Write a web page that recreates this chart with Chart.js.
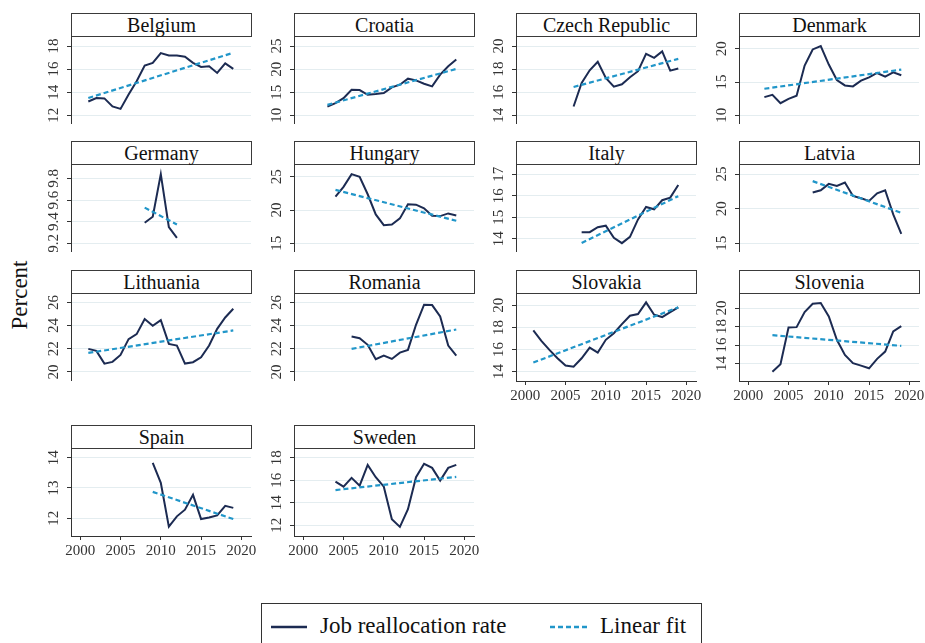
<!DOCTYPE html>
<html>
<head>
<meta charset="utf-8">
<script src="https://cdn.jsdelivr.net/npm/chart.js@4.4.0/dist/chart.umd.min.js"></script>
<style>
  body { margin: 0; background: #fff; }
  #wrap { position: relative; width: 925px; height: 643px; overflow: hidden; font-family: "Liberation Serif", serif; color: #111; }
  .title { position: absolute; box-sizing: border-box; height: 24px; width: 181px; border: 1px solid #3a3a3a; background: #fff; text-align: center; font-size: 20px; line-height: 22px; }
  canvas { position: absolute; }
  #ylab { position: absolute; left: 20px; top: 295px; font-size: 23px; transform: translate(-50%, -50%) rotate(-90deg); white-space: nowrap; }
  #legend { position: absolute; left: 261px; top: 603px; width: 441px; height: 60px; box-sizing: border-box; border: 1px solid #333; }
  .ltxt { position: absolute; top: 613px; font-size: 23px; line-height: 26px; white-space: nowrap; }
</style>
</head>
<body>
<div id="wrap">
  <div id="ylab">Percent</div>
  <div id="legend"></div>
  <svg style="position:absolute;left:0;top:0" width="925" height="643">
    <line x1="271" y1="627" x2="307" y2="627" stroke="#1c2b52" stroke-width="2.5"/>
    <line x1="550" y1="627" x2="588" y2="627" stroke="#2196c9" stroke-width="2.5" stroke-dasharray="5,3"/>
  </svg>
  <div class="ltxt" style="left:320px">Job reallocation rate</div>
  <div class="ltxt" style="left:600px">Linear fit</div>
</div>
<script>
const countries = ["Belgium", "Croatia", "Czech Republic", "Denmark", "Germany", "Hungary", "Italy",
  "Latvia", "Lithuania", "Romania", "Slovakia", "Slovenia", "Spain", "Sweden"];
const firstYear = [2001, 2003, 2006, 2002, 2008, 2004, 2007, 2008, 2001, 2006, 2001, 2003, 2009, 2004];

const belgium = [13.19, 13.49, 13.46, 12.76, 12.55, 13.8, 14.94, 16.31, 16.54, 17.39, 17.18, 17.18, 17.07, 16.54, 16.19, 16.25, 15.67, 16.49, 16.02];
const croatia = [11.89, 12.62, 13.71, 15.54, 15.46, 14.44, 14.59, 14.81, 16.05, 16.63, 17.94, 17.57, 16.85, 16.26, 18.81, 20.63, 22.09];
const czech = [14.76, 16.8, 17.9, 18.63, 17.23, 16.48, 16.68, 17.29, 17.82, 19.33, 18.98, 19.53, 17.87, 18.05];
const denmark = [12.73, 13.08, 11.82, 12.47, 12.93, 17.47, 19.9, 20.4, 17.63, 15.3, 14.49, 14.34, 15.2, 15.71, 16.36, 15.81, 16.46, 16.01];
const germany = [9.39, 9.446, 9.84, 9.35, 9.25];
const hungary = [22.02, 23.48, 25.4, 25.0, 22.37, 19.34, 17.73, 17.83, 18.74, 20.86, 20.81, 20.25, 19.14, 19.09, 19.49, 19.19];
const italy = [14.31, 14.31, 14.54, 14.61, 14.05, 13.8, 14.09, 14.9, 15.48, 15.37, 15.79, 15.91, 16.5];
const latvia = [22.33, 22.67, 23.59, 23.3, 23.79, 21.84, 21.5, 21.12, 22.23, 22.67, 19.17, 16.36];
const lithuania = [21.99, 21.82, 20.72, 20.87, 21.47, 22.83, 23.26, 24.56, 23.98, 24.47, 22.42, 22.28, 20.72, 20.84, 21.27, 22.28, 23.72, 24.7, 25.45];
const romania = [23.06, 22.91, 22.34, 21.1, 21.41, 21.12, 21.67, 21.9, 24.07, 25.8, 25.77, 24.79, 22.28, 21.41];
const slovakia = [17.73, 16.79, 15.97, 15.21, 14.55, 14.45, 15.21, 16.18, 15.73, 16.88, 17.48, 18.3, 19.06, 19.21, 20.27, 19.15, 18.94, 19.39, 19.82];
const slovenia = [13.13, 13.93, 17.9, 17.94, 19.57, 20.47, 20.54, 19.1, 16.57, 14.94, 14.04, 13.78, 13.49, 14.51, 15.3, 17.47, 18.05];
const spain = [13.83, 13.17, 11.72, 12.06, 12.28, 12.77, 11.97, 12.02, 12.09, 12.41, 12.34];
const sweden = [15.88, 15.43, 16.21, 15.52, 17.37, 16.27, 15.43, 12.54, 11.85, 13.43, 16.27, 17.46, 17.1, 15.97, 17.1, 17.37];
const rates = [belgium, croatia, czech, denmark, germany, hungary, italy, latvia, lithuania, romania, slovakia, slovenia, spain, sweden];

// linear fit, value at first and last year
const fitStart = [13.49, 12.26, 16.45, 13.99, 9.53, 23.03, 13.81, 23.98, 21.64, 21.99, 14.82, 17.07, 12.87, 15.13];
const fitEnd = [17.42, 20.05, 18.89, 16.87, 9.374, 18.38, 15.98, 19.4, 23.58, 23.66, 19.82, 15.92, 11.97, 16.3];

const yMin = [11.24, 8.11, 13.24, 8.69, 9.119, 13.69, 13.39, 13.74, 19.22, 19.22, 13.15, 12.12, 11.41, 11.04];
const yMax = [18.87, 27.19, 20.87, 21.92, 9.934, 26.92, 17.47, 26.46, 26.81, 26.81, 21.12, 21.63, 14.32, 18.87];
const yTicks = [[12, 14, 16, 18], [10, 15, 20, 25], [14, 16, 18, 20], [10, 15, 20], [9.2, 9.4, 9.6, 9.8],
  [15, 20, 25], [14, 15, 16, 17], [15, 20, 25], [20, 22, 24, 26], [20, 22, 24, 26],
  [14, 16, 18, 20], [14, 16, 18, 20], [12, 13, 14], [12, 14, 16, 18]];
const xTicks = [2000, 2005, 2010, 2015, 2020];
const withXAxis = [10, 11, 12, 13];

const colLeft = [71, 294, 516, 739];
const rowTop = [13, 141, 270, 425];

Chart.defaults.font.family = "Liberation Serif";

const yLabels = {
  id: "yLabels",
  afterDraw(chart) {
    const s = chart.scales.y;
    const ctx = chart.ctx;
    ctx.save();
    ctx.font = "15px 'Liberation Serif'";
    ctx.fillStyle = "#333";
    ctx.textAlign = "center";
    ctx.textBaseline = "alphabetic";
    s.ticks.forEach(t => {
      ctx.save();
      ctx.translate(s.right - 13, s.getPixelForValue(t.value));
      ctx.rotate(-Math.PI / 2);
      ctx.fillText(String(t.value), 0, 0);
      ctx.restore();
    });
    ctx.restore();
  }
};

const wrap = document.getElementById("wrap");

countries.forEach((name, i) => {
  const row = Math.floor(i / 4);
  const col = i % 4;
  const showX = withXAxis.includes(i);

  const t = document.createElement("div");
  t.className = "title";
  t.style.left = colLeft[col] + "px";
  t.style.top = rowTop[row] + "px";
  t.textContent = name;
  wrap.appendChild(t);

  const cv = document.createElement("canvas");
  cv.width = 40 + 180 + 12;
  cv.height = 88 + (showX ? 26 : 0);
  cv.style.left = (colLeft[col] - 40) + "px";
  cv.style.top = (rowTop[row] + 23) + "px";
  wrap.appendChild(cv);

  const pts = rates[i].map((v, k) => ({ x: firstYear[i] + k, y: v }));
  const lastYear = firstYear[i] + rates[i].length - 1;

  new Chart(cv, {
    type: "line",
    data: {
      datasets: [
        {
          data: [{ x: firstYear[i], y: fitStart[i] }, { x: lastYear, y: fitEnd[i] }],
          borderColor: "#2196c9",
          borderWidth: 2.2,
          borderDash: [5, 3],
          pointRadius: 0
        },
        {
          data: pts,
          borderColor: "#1c2b52",
          borderWidth: 2,
          pointRadius: 0,
          tension: 0
        }
      ]
    },
    options: {
      responsive: false,
      animation: false,
      layout: { padding: { left: 0, right: 12, top: 0, bottom: 0 } },
      plugins: { legend: { display: false }, tooltip: { enabled: false } },
      scales: {
        x: {
          type: "linear",
          min: 1998.85,
          max: 2021.2,
          display: showX,
          afterBuildTicks: s => { s.ticks = xTicks.map(v => ({ value: v })); },
          afterFit: s => { s.height = showX ? 26 : 0; },
          grid: { drawOnChartArea: false, tickLength: 4, tickColor: "#333" },
          border: { color: "#333" },
          ticks: { font: { size: 15 }, color: "#333", padding: 2, maxRotation: 0, autoSkip: false, callback: v => String(v) }
        },
        y: {
          min: yMin[i],
          max: yMax[i],
          afterBuildTicks: s => { s.ticks = yTicks[i].map(v => ({ value: v })); },
          afterFit: s => { s.width = 40; },
          grid: { color: "#e4edf0", tickLength: 4, tickColor: "#333" },
          border: { color: "#333" },
          ticks: { display: false }
        }
      }
    },
    plugins: [yLabels]
  });
});
</script>
</body>
</html>
